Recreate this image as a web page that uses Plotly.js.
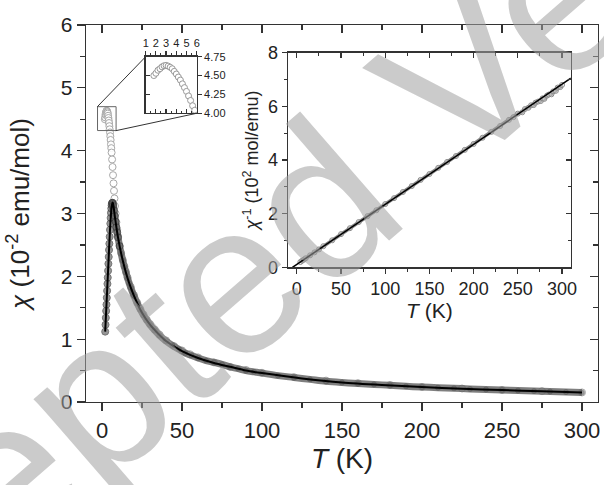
<!DOCTYPE html>
<html>
<head>
<meta charset="utf-8">
<script src="https://cdn.plot.ly/plotly-3.0.1.min.js"></script>
<style>html,body{margin:0;padding:0;background:#fff;}#chart{width:604px;height:485px;}</style>
</head>
<body>
<div id="chart"></div>
<script>
// ---- Main panel: chi vs T (10^-2 emu/mol) ----
// open circles series
const T_fc = [1.8,2.0,2.2,2.4,2.6,2.8,3.0,3.2,3.4,3.6,3.8,4.0,4.2,4.4,4.6,4.8,5.0,5.2,5.4,5.6,5.8,6.0,6.3,6.6,6.9,7.2,7.5,7.8,8.1,8.5,9,9.5,10,11,12,13,14,15,16,18,20,22,24,26,28,30,33,36,40,45,50,55,60,70,80,90,100,120,140,160,180,200,225,250,275,300];
const chi_fc = [4.50,4.53,4.57,4.59,4.615,4.63,4.635,4.625,4.61,4.59,4.555,4.52,4.48,4.44,4.39,4.34,4.29,4.23,4.17,4.10,4.04,3.97,3.86,3.74,3.61,3.48,3.36,3.24,3.12,3.00,2.86,2.74,2.64,2.49,2.37,2.26,2.16,2.07,1.98,1.83,1.70,1.58,1.48,1.39,1.31,1.24,1.15,1.07,0.98,0.89,0.82,0.76,0.71,0.63,0.56,0.51,0.465,0.395,0.34,0.30,0.27,0.24,0.215,0.192,0.172,0.152];
// filled circles series
const T_zfc = [2.0,2.2,2.4,2.6,2.8,3.0,3.2,3.4,3.6,3.8,4.0,4.2,4.4,4.6,4.8,5.0,5.2,5.4,5.6,5.8,6.0,6.2,6.4,6.6,6.8,7.0,7.5,8,8.5,9,9.5,10,11,12,13,14,15,16,17,18,19,20,22,24,26,28,30,33,36,40,44,48,52,56,60,65,70,75,80,85,90,95,100,110,120,130,140,150,160,170,180,190,200,210,220,230,240,250,260,270,280,290,300];
const chi_zfc = [1.12,1.23,1.34,1.45,1.55,1.66,1.77,1.88,1.98,2.09,2.20,2.31,2.42,2.52,2.63,2.74,2.84,2.93,3.01,3.08,3.13,3.16,3.17,3.17,3.15,3.12,3.05,2.96,2.87,2.78,2.70,2.62,2.48,2.36,2.25,2.15,2.06,1.97,1.89,1.82,1.75,1.69,1.57,1.47,1.38,1.30,1.23,1.14,1.06,0.97,0.90,0.84,0.78,0.74,0.70,0.66,0.63,0.60,0.56,0.53,0.50,0.48,0.46,0.42,0.39,0.36,0.33,0.31,0.295,0.28,0.265,0.25,0.238,0.228,0.218,0.208,0.199,0.19,0.182,0.174,0.166,0.158,0.15];
// fitted curve
const T_fit = [2,3,4,5,6,6.6,7,8,9,10,12,14,16,18,20,25,30,35,40,50,60,70,80,90,100,125,150,175,200,225,250,275,300];
const chi_fit = [1.12,1.66,2.20,2.74,3.10,3.18,3.15,2.96,2.78,2.62,2.36,2.15,1.97,1.82,1.69,1.42,1.23,1.09,0.97,0.81,0.70,0.62,0.56,0.50,0.46,0.375,0.31,0.27,0.238,0.212,0.19,0.17,0.15];

// ---- Inset: inverse susceptibility (10^2 mol/emu) ----
const T_inv = [4,6,8,10,15,20,25,30,40,50,60,70,80,90,100,110,120,130,140,150,160,170,180,190,200,210,220,230,240,245,250,255,258,262,265,268,270,273,276,278,280,283,285,288,290,293,295,298,300];
const chiInv = [0.20,0.25,0.29,0.34,0.45,0.56,0.67,0.79,1.01,1.24,1.46,1.69,1.91,2.13,2.36,2.58,2.81,3.03,3.26,3.48,3.71,3.93,4.15,4.38,4.60,4.83,5.05,5.27,5.50,5.60,5.73,5.78,5.90,5.95,6.04,6.05,6.14,6.18,6.20,6.30,6.28,6.40,6.44,6.45,6.56,6.58,6.70,6.72,6.80];
const T_invfit = [-5,310];
const chiInv_fit = [0,7.05];

// ---- tick values ----
const mainXTicks = [0,50,100,150,200,250,300];
const mainYTicks = [0,1,2,3,4,5,6];
const insXTicks = [0,50,100,150,200,250,300];
const insYTicks = [0,2,4,6,8];
const zoomXTicks = [1,2,3,4,5,6];
const zoomYTicks = [4.00,4.25,4.50,4.75];

const FONT = 'Liberation Sans, Arial, sans-serif';
const AX = '#333';
const TXT = '#222';

function axBase(extra){
  return Object.assign({
    showgrid:false, zeroline:false, showline:true, linecolor:AX, linewidth:1.3,
    tickcolor:AX, tickwidth:1.2, fixedrange:true
  }, extra);
}

// band of dense high-temperature points (subset of the filled series above the peak)
const bandIdx = T_zfc.map((t,i) => i).filter(i => T_zfc[i] >= 6.4);
const T_band = bandIdx.map(i => T_zfc[i]);
const chi_band = bandIdx.map(i => chi_zfc[i]);

const traces = [
  {x:T_fc, y:chi_fc, mode:'markers', xaxis:'x', yaxis:'y',
   marker:{symbol:'circle', size:7, color:'rgba(255,255,255,0.9)', line:{color:'#a8a8a8', width:1}}, hoverinfo:'skip'},
  {x:T_band, y:chi_band, mode:'lines', xaxis:'x', yaxis:'y',
   line:{color:'rgba(105,105,105,0.85)', width:7, shape:'spline'}, hoverinfo:'skip'},
  {x:T_zfc, y:chi_zfc, mode:'markers', xaxis:'x', yaxis:'y',
   marker:{symbol:'circle', size:T_zfc.map(t => t < 12 ? 7 : 5), color:'#6a6a6a',
           line:{color:T_zfc.map(t => t < 12 ? '#3a3a3a' : 'rgba(80,80,80,0.6)'), width:1}}, hoverinfo:'skip'},
  {x:T_fit, y:chi_fit, mode:'lines', xaxis:'x', yaxis:'y',
   line:{color:'#000', width:2, shape:'spline', smoothing:0.6}, hoverinfo:'skip'},
  {x:[], y:[], xaxis:'x2', yaxis:'y2', mode:'markers', hoverinfo:'skip'},
  // big inset
  {x:T_inv, y:chiInv, mode:'lines+markers', xaxis:'x3', yaxis:'y3',
   line:{color:'rgba(95,95,95,0.75)', width:3.5},
   marker:{symbol:'circle', size:5, color:'rgba(255,255,255,0.3)', line:{color:'#8a8a8a', width:1}}, hoverinfo:'skip'},
  {x:T_invfit, y:chiInv_fit, mode:'lines', xaxis:'x3', yaxis:'y3',
   line:{color:'#000', width:1.5}, hoverinfo:'skip'},
  {x:[], y:[], xaxis:'x4', yaxis:'y4', mode:'markers', hoverinfo:'skip'},
  // small zoom inset
  {x:T_fc, y:chi_fc, mode:'markers', xaxis:'x5', yaxis:'y5',
   marker:{symbol:'circle', size:6, color:'#fff', line:{color:'#999', width:1}}, hoverinfo:'skip'},
  {x:[], y:[], xaxis:'x6', yaxis:'y6', mode:'markers', hoverinfo:'skip'}
];

const insX = [0.3945, 0.947], insY = [0.357, 0.9265];
const zX = [0.1166, 0.2162], zY = [0.7658, 0.916];

const layout = {
  width:604, height:485,
  margin:{l:86, r:6, t:25, b:83, pad:0},
  paper_bgcolor:'#fff', plot_bgcolor:'rgba(0,0,0,0)',
  showlegend:false,
  font:{family:FONT, color:TXT},
  xaxis: axBase({domain:[0,1], anchor:'y', range:[-10,310], tickvals:mainXTicks, ticks:'outside', ticklen:8,
    minor:{dtick:25, tick0:0, ticks:'outside', ticklen:5, tickcolor:AX, tickwidth:1.2},
    tickfont:{size:22, family:FONT, color:TXT},
    title:{text:'<i>T</i> (K)', font:{size:28, family:FONT, color:TXT}, standoff:6}}),
  yaxis: axBase({domain:[0,1], anchor:'x', range:[0,6], tickvals:mainYTicks, ticks:'outside', ticklen:8,
    minor:{dtick:0.5, tick0:0, ticks:'outside', ticklen:5, tickcolor:AX, tickwidth:1.2},
    tickfont:{size:21, family:FONT, color:TXT},
    title:{text:'<i>χ</i> (10<sup>-2</sup> emu/mol)', font:{size:26, family:FONT, color:TXT}, standoff:23}}),
  xaxis2: axBase({overlaying:'x', side:'top', anchor:'y', range:[-10,310], tickvals:mainXTicks, ticks:'inside', ticklen:8,
    showticklabels:false, minor:{dtick:25, tick0:0, ticks:'inside', ticklen:5, tickcolor:AX, tickwidth:1.2}}),
  yaxis2: axBase({overlaying:'y', side:'right', anchor:'x', range:[0,6], tickvals:mainYTicks, ticks:'inside', ticklen:8,
    showticklabels:false, minor:{dtick:0.5, tick0:0, ticks:'inside', ticklen:5, tickcolor:AX, tickwidth:1.2}}),

  xaxis3: axBase({domain:insX, anchor:'y3', range:[-10,310], tickvals:insXTicks, ticks:'outside', ticklen:5,
    minor:{dtick:25, tick0:0, ticks:'outside', ticklen:3, tickcolor:AX, tickwidth:1},
    tickfont:{size:18, family:FONT, color:TXT},
    title:{text:'<i>T</i> (K)', font:{size:21, family:FONT, color:TXT}, standoff:2}}),
  yaxis3: axBase({domain:insY, anchor:'x3', range:[0,8], tickvals:insYTicks, ticks:'outside', ticklen:5,
    minor:{dtick:1, tick0:0, ticks:'outside', ticklen:3, tickcolor:AX, tickwidth:1},
    tickfont:{size:18, family:FONT, color:TXT},
    title:{text:'<i>χ</i><sup>-1</sup> (10<sup>2</sup> mol/emu)', font:{size:18, family:FONT, color:TXT}, standoff:4}}),
  xaxis4: axBase({overlaying:'x3', side:'top', anchor:'y3', range:[-10,310], tickvals:insXTicks, ticks:'inside', ticklen:5,
    showticklabels:false, minor:{dtick:25, tick0:0, ticks:'inside', ticklen:3, tickcolor:AX, tickwidth:1}}),
  yaxis4: axBase({overlaying:'y3', side:'right', anchor:'x3', range:[0,8], tickvals:insYTicks, ticks:'inside', ticklen:5,
    showticklabels:false, minor:{dtick:1, tick0:0, ticks:'inside', ticklen:3, tickcolor:AX, tickwidth:1}}),

  xaxis5: axBase({domain:zX, anchor:'y5', side:'top', range:[1,6], tickvals:zoomXTicks, ticks:'outside', ticklen:4,
    minor:{dtick:0.5, tick0:1, ticks:'outside', ticklen:2, tickcolor:AX, tickwidth:1}, linewidth:1.2,
    tickfont:{size:11, family:FONT, color:TXT}}),
  yaxis5: axBase({domain:zY, anchor:'x5', side:'right', range:[4,4.75], tickvals:zoomYTicks, tickformat:'.2f', ticks:'outside', ticklen:4,
    linewidth:1.2, tickfont:{size:11, family:FONT, color:TXT}}),
  xaxis6: axBase({overlaying:'x5', side:'bottom', anchor:'y5', range:[1,6], tickvals:zoomXTicks, ticks:'inside', ticklen:4,
    showticklabels:false, linewidth:1.2, minor:{dtick:0.5, tick0:1, ticks:'inside', ticklen:2, tickcolor:AX, tickwidth:1}}),
  yaxis6: axBase({overlaying:'y5', side:'left', anchor:'x5', range:[4,4.75], tickvals:zoomYTicks, ticks:'inside', ticklen:4,
    showticklabels:false, linewidth:1.2}),

  shapes:[
    {type:'rect', xref:'x', yref:'y', x0:-2.8, x1:8.8, y0:4.32, y1:4.70, line:{color:'#666', width:1}},
    {type:'line', xref:'paper', yref:'paper', x0:0.022, y0:0.783, x1:zX[0], y1:zY[1], line:{color:'#333', width:1}},
    {type:'line', xref:'paper', yref:'paper', x0:0.058, y0:0.7196, x1:zX[1], y1:zY[0], line:{color:'#333', width:1}}
  ],
  annotations:[
    {text:'Accepted Version', xref:'paper', yref:'paper', x:0.456, y:0.528, xanchor:'center', yanchor:'middle',
     showarrow:false, textangle:-41, font:{family:FONT, size:215, color:'rgba(160,160,160,0.55)'}}
  ]
};

Plotly.newPlot('chart', traces, layout, {displayModeBar:false, staticPlot:true});
</script>
</body>
</html>
